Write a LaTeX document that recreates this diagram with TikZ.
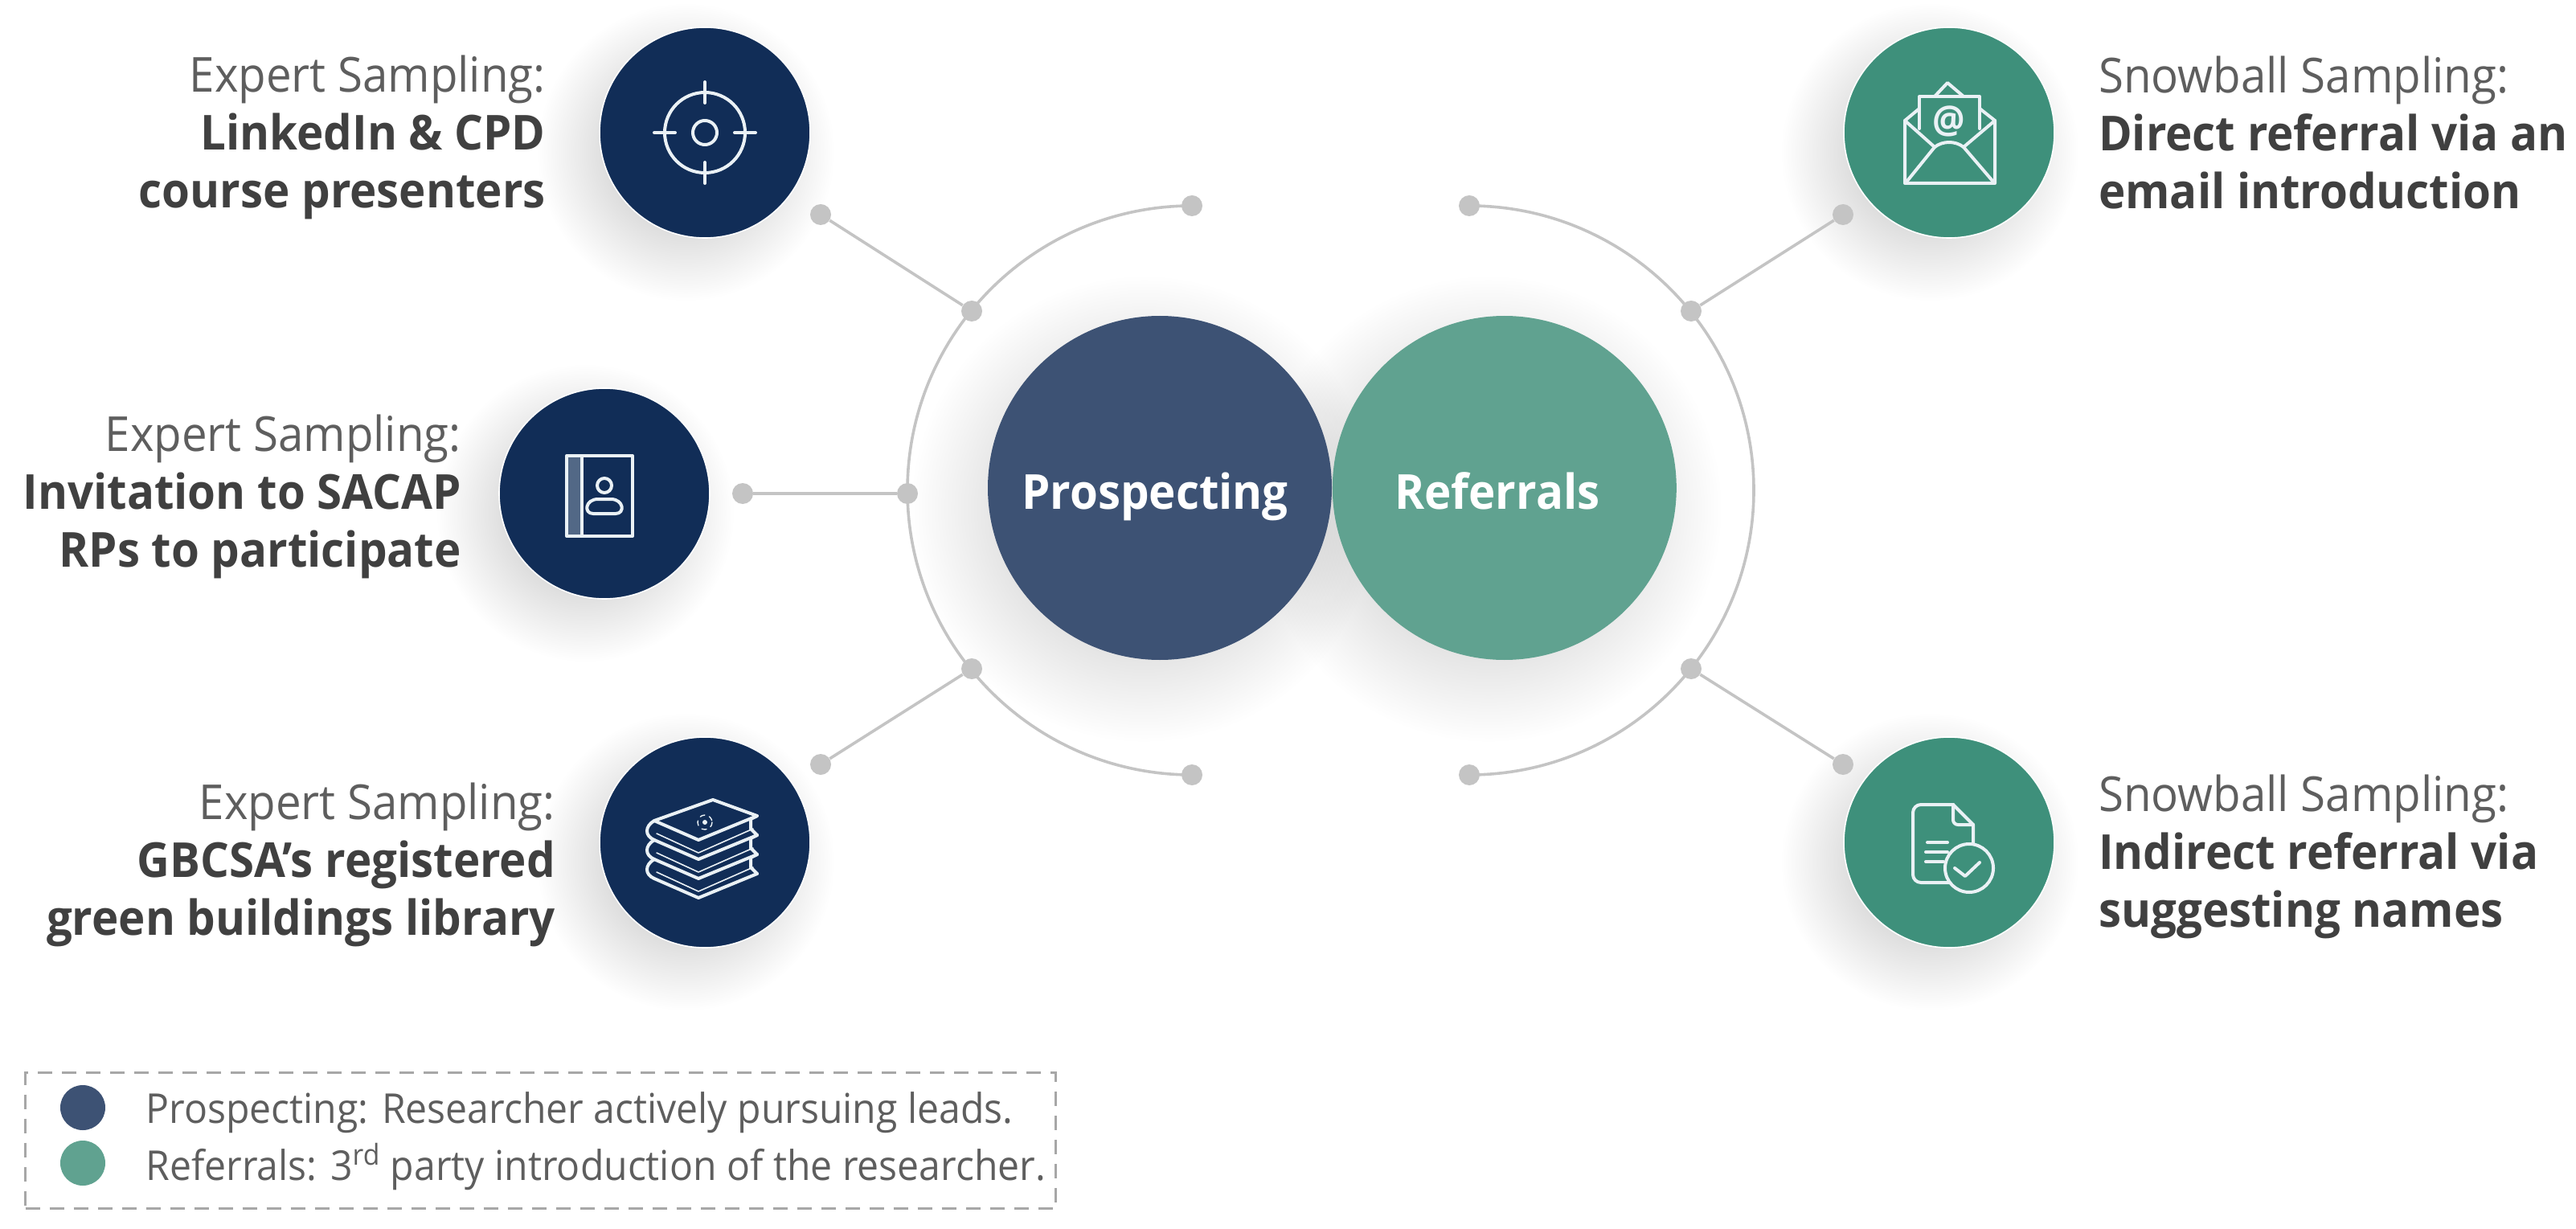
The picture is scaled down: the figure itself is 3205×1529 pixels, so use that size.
\documentclass[tikz,border=0pt]{standalone}
\usepackage{fontspec}
\setmainfont{Open Sans}[FakeStretch=0.94]
\usetikzlibrary{positioning,fadings,backgrounds}
\definecolor{cNavy}{HTML}{112D57}
\definecolor{cTeal}{HTML}{3E907B}
\definecolor{cProspect}{HTML}{3D5274}
\definecolor{cRefer}{HTML}{60A290}
\definecolor{cLine}{HTML}{C4C4C4}
\definecolor{cPlain}{HTML}{5E5E5E}
\definecolor{cStrong}{HTML}{404040}
\definecolor{cIcon}{HTML}{EAF1F5}
\tikzfading[name=softdisc, inner color=transparent!72, outer color=transparent!100]

\begin{document}
\begin{tikzpicture}[
  x=0.5pt, y=-0.5pt,
  hub/.style={circle, fill=#1, inner sep=0pt, minimum size=214pt, text=white, text height=26pt, text depth=0pt,
              font=\fontsize{30}{36}\selectfont\bfseries},
  badge/.style={circle, fill=#1, draw=white, line width=0.8pt, inner sep=0pt, minimum size=131pt},
  knot/.style={circle, fill=cLine, inner sep=0pt, minimum size=13pt},
  spoke/.style={draw=cLine, line width=1.8pt},
  caption/.style={inner sep=0pt, text=cPlain, align=#1,
                  font=\fontsize{30}{36}\selectfont},
  iconline/.style={draw=cIcon, line width=2pt, line cap=round, line join=round},
  softshadow/.style={fill=black, path fading=softdisc},
  legendtext/.style={anchor=base west, inner sep=0pt, text=cPlain, font=\fontsize{25.6}{30}\selectfont},
]
\useasboundingbox (0,0) rectangle (3205,1529);

% ---- centre: the two hubs ----
\node[hub=cProspect] (prospect) at (1443,607) {Prospecting\kern6pt};
\node[hub=cRefer, right=0pt of prospect] (refer) {Referrals\kern9pt};

% ---- left badges and their captions ----
\node[badge=cNavy] (target) at (877,165) {};
\node[badge=cNavy] (addr) at (752,614) {};
\node[badge=cNavy] (library) at (877,1048) {};
\node[caption=right, left=33pt of target, yshift=-3pt] (capTarget)
  {Expert Sampling:\\\textbf{\textcolor{cStrong}{LinkedIn \& CPD}}\\\textbf{\textcolor{cStrong}{course presenters}}};
\node[caption=right, left=23pt of addr, yshift=-2pt] (capAddr)
  {Expert Sampling:\\\textbf{\textcolor{cStrong}{Invitation to SACAP}}\\\textbf{\textcolor{cStrong}{RPs to participate}}};
\node[caption=right, left=27pt of library, yshift=-14pt] (capLibrary)
  {Expert Sampling:\\\textbf{\textcolor{cStrong}{GBCSA's registered}}\\\textbf{\textcolor{cStrong}{green buildings library}}};

% ---- right badges and their captions ----
\node[badge=cTeal] (mail) at (2425,165) {};
\node[badge=cTeal] (doc) at (2425,1048) {};
\node[caption=left, right=27pt of mail] (capMail)
  {Snowball Sampling:\\\textbf{\textcolor{cStrong}{Direct referral via an}}\\\textbf{\textcolor{cStrong}{email introduction}}};
\node[caption=left, right=27pt of doc, yshift=-9pt] (capDoc)
  {Snowball Sampling:\\\textbf{\textcolor{cStrong}{Indirect referral via}}\\\textbf{\textcolor{cStrong}{suggesting names}}};

% ---- soft shadows ----
\begin{scope}[on background layer]
  \foreach \n in {target,addr,library,mail,doc}
    \fill[softshadow] ([shift={(-24,24)}]\n.center) circle[radius=185];
  \foreach \n in {prospect,refer}
    \fill[softshadow] ([shift={(-20,26)}]\n.center) circle[radius=290];
\end{scope}

% ---- knots ----
\node[knot] (lTop) at (1483,256) {};
\node[knot] (lUp) at (1209,387) {};
\node[knot] (lMid) at (1129,614) {};
\node[knot] (lLow) at (1209,832) {};
\node[knot] (lEnd) at (1483,964) {};
\node[knot] (rTop) at (1828,256) {};
\node[knot] (rUp) at (2104,387) {};
\node[knot] (rLow) at (2104,832) {};
\node[knot] (rEnd) at (1828,964) {};
\node[knot] (tTarget) at (1021,267) {};
\node[knot] (tAddr) at (924,614) {};
\node[knot] (tLibrary) at (1021,951) {};
\node[knot] (tMail) at (2293,267) {};
\node[knot] (tDoc) at (2293,951) {};

% ---- arcs and spokes ----
\draw[spoke] (lTop.center) arc[start angle=-90, end angle=-270, radius=354];
\draw[spoke] (rTop.center) arc[start angle=-90, end angle=90, radius=354];
\draw[spoke] (tTarget) -- (lUp);
\draw[spoke] (tAddr) -- (lMid);
\draw[spoke] (tLibrary) -- (lLow);
\draw[spoke] (tMail) -- (rUp);
\draw[spoke] (tDoc) -- (rLow);

% ---- icons ----
\begin{scope}[shift={(target.center)}, iconline]
  \draw (0,0) circle[radius=50];
  \draw (0,0) circle[radius=15];
  \foreach \a in {0,90,180,270}
    \draw (\a:37) -- (\a:63);
\end{scope}
\begin{scope}[shift={(addr.center)}, iconline]
  \fill[cIcon!30!cNavy] (-47,-47) rectangle (-28,53);
  \draw (-47,-47) rectangle (35,53);
  \draw (-28,-47) -- (-28,53);
  \draw (0,-10) circle[radius=9];
  \draw (-14,25) -- (14,25) .. controls (26,25) and (24,7) .. (8,7) -- (-8,7) .. controls (-24,7) and (-26,25) .. (-14,25) -- cycle;
\end{scope}
\begin{scope}[shift={(library.center)}, iconline]
  \draw (10,-53) -- (65,-33) -- (-8,-3) -- (-63,-27) -- cycle;
  \draw[dashed, line width=0.7pt] (0,-25) circle[radius=9];
  \fill[cIcon] (0,-25) circle[radius=3];
  \foreach \k in {1,2,3} {
    \draw (-63,{-27+24*\k}) -- (-8,{-3+24*\k}) -- (65,{-33+24*\k});
    \draw[line width=0.8pt] (-60,{-35+24*\k}) -- (-8,{-11+24*\k}) -- (60,{-41+24*\k});
    \draw (65,{-33+24*(\k-1)}) -- (57,{-29+24*(\k-1)}) -- (57,{-17+24*(\k-1)}) -- (65,{-33+24*\k});
  }
  \draw (-63,-27) .. controls (-75,-20) and (-75,-8) .. (-63,-3);
  \draw (-63,-3) .. controls (-75,4) and (-75,16) .. (-63,21);
  \draw (-63,21) .. controls (-75,28) and (-75,40) .. (-63,45);
\end{scope}
\begin{scope}[shift={(mail.center)}, iconline]
  \draw (-37,-5) -- (-37,-45) -- (38,-45) -- (38,-5);
  \draw (-18,-45) -- (-2,-62) -- (18,-45);
  \draw (-37,-30) -- (-55,-15) -- (-55,63) -- (57,63) -- (57,-15) -- (38,-30);
  \draw (-55,-15) -- (-18,18) .. controls (-8,10) and (8,10) .. (18,18) -- (57,-15);
  \draw (-52,60) -- (-18,18);
  \draw (54,60) -- (18,18);
  \node[inner sep=0pt, text=cIcon, font=\fontsize{24}{24}\selectfont\bfseries] (atsign) at (0,-14) {@};
\end{scope}
\begin{scope}[shift={(doc.center)}, iconline]
  \draw[rounded corners=5pt] (5,-47) -- (-45,-47) -- (-45,50) -- (0,50);
  \draw (5,-47) -- (30,-22) -- (30,5);
  \draw[rounded corners=3pt] (5,-47) -- (5,-22) -- (30,-22);
  \draw (-27,0) -- (-2,0);
  \draw (-29,12) -- (-2,12);
  \draw (-29,24) -- (-7,24);
  \draw[fill=cTeal] (25,32) circle[radius=30];
  \draw (7,32) -- (20,42) -- (38,25);
\end{scope}

% ---- legend ----
\node[draw=cLine!85!black, line width=1.6pt, dash pattern=on 9pt off 6pt, inner sep=0pt,
      minimum width=641pt, minimum height=84.5pt, anchor=north west] (legend) at (30,1333) {};
\node[circle, fill=cProspect, inner sep=0pt, minimum size=28pt] (keyA) at (103,1378) {};
\node[circle, fill=cRefer, inner sep=0pt, minimum size=28pt] (keyB) at (103,1447) {};
\node[legendtext] (keyAtext) at (181,1397) {Prospecting: Researcher actively pursuing leads.};
\node[legendtext] (keyBtext) at (181,1468) {Referrals: 3\textsuperscript{rd} party introduction of the researcher.};

\end{tikzpicture}
\end{document}
